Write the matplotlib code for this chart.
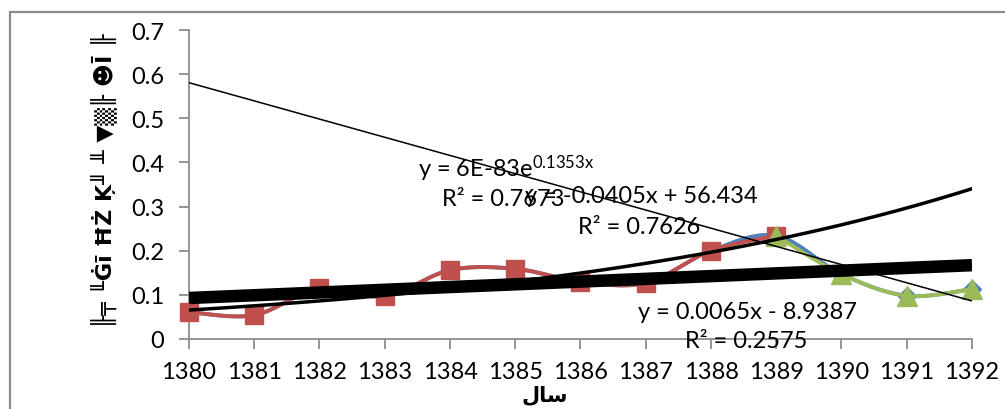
import numpy as np
import matplotlib
matplotlib.use("Agg")
import matplotlib.pyplot as plt
from matplotlib.patches import Rectangle

# ---- data ----
years = [1380, 1381, 1382, 1383, 1384, 1385, 1386, 1387, 1388, 1389, 1390, 1391, 1392]
all_values = [0.061, 0.054, 0.115, 0.097, 0.156, 0.159, 0.130, 0.127, 0.200, 0.234, 0.147, 0.098, 0.113]
red_years = [1380, 1381, 1382, 1383, 1384, 1385, 1386, 1387, 1388, 1389]
red_values = [0.061, 0.054, 0.115, 0.097, 0.156, 0.159, 0.130, 0.127, 0.200, 0.234]
green_years = [1389, 1390, 1391, 1392]
green_values = [0.234, 0.147, 0.098, 0.113]
yticks = [0, 0.1, 0.2, 0.3, 0.4, 0.5, 0.6, 0.7]
ylabel_text = "╟╤ ╙Ġī ĦŻ Ķ╜ ╨ ▼▒╟ ☻Ī ╟"
xlabel_text = "ﻝﺎﺳ"  # سال (presentation forms, visual order)
eq_exp = "y = 6E-83e$^{0.1353x}$"
r2_exp = "R² = 0.7673"
eq_dec = "y = -0.0405x + 56.434"
r2_dec = "R² = 0.7626"
eq_lin = "y = 0.0065x - 8.9387"
r2_lin = "R² = 0.2575"

BLUE = "#4F81BD"
RED = "#C0504D"
GREEN = "#9BBB59"

plt.rcParams['font.family'] = ['Lato', 'DejaVu Sans']
plt.rcParams['mathtext.fontset'] = 'custom'
plt.rcParams['mathtext.rm'] = 'Lato'
plt.rcParams['mathtext.it'] = 'Lato'


def smooth(xs, ys, n=30):
    xs = np.asarray(xs, float)
    ys = np.asarray(ys, float)
    P = np.column_stack([xs, ys])
    Pext = np.vstack([P[0], P, P[-1]])
    out = []
    t = np.linspace(0, 1, n)[:, None]
    for i in range(len(P) - 1):
        p0, p1, p2, p3 = Pext[i], Pext[i + 1], Pext[i + 2], Pext[i + 3]
        b1 = p1 + (p2 - p0) / 6
        b2 = p2 - (p3 - p1) / 6
        seg = ((1 - t) ** 3) * p1 + 3 * ((1 - t) ** 2) * t * b1 + 3 * (1 - t) * t ** 2 * b2 + t ** 3 * p2
        out.append(seg if i == 0 else seg[1:])
    s = np.vstack(out)
    return s[:, 0], s[:, 1]


fig = plt.figure(figsize=(10.05, 4.10), dpi=100)
ax = fig.add_axes([189 / 1005, 70 / 410, (972 - 189) / 1005, (340 - 31) / 410])

# series
bx, by = smooth(years, all_values)
ax.plot(bx, by, color=BLUE, lw=2.8, clip_on=False, zorder=2)
ax.plot(years, all_values, ls='none', marker='D', ms=9.5, color=BLUE, clip_on=False, zorder=2)

rx, ry = smooth(red_years, red_values)
ax.plot(rx, ry, color=RED, lw=2.8, clip_on=False, zorder=3)
ax.plot(red_years, red_values, ls='none', marker='s', ms=13.5, color=RED, clip_on=False, zorder=3)

gx, gy = smooth(green_years, green_values)
ax.plot(gx, gy, color=GREEN, lw=2.8, clip_on=False, zorder=4)
ax.plot(green_years, green_values, ls='none', marker='^', ms=14, color=GREEN, clip_on=False, zorder=4)

# trendlines
xt = np.linspace(years[0], years[-1], 200)
c_lin = np.polyfit(years, all_values, 1)
ax.plot(xt, np.polyval(c_lin, xt), color='black', lw=9, zorder=5, solid_capstyle='butt')
c_exp = np.polyfit(red_years, np.log(red_values), 1)
ax.plot(xt, np.exp(np.polyval(c_exp, xt)), color='black', lw=2.5, zorder=6)
c_dec = np.polyfit(green_years, green_values, 1)
ax.plot(xt, np.polyval(c_dec, xt), color='black', lw=1.1, zorder=6)

# labels of trendlines
fs = 17
ax.text(418 / 1005, 1 - 177 / 410, eq_exp, transform=fig.transFigure, fontsize=fs, va='baseline', zorder=7)
ax.text(442 / 1005, 1 - 206 / 410, r2_exp, transform=fig.transFigure, fontsize=fs, va='baseline', zorder=7)
ax.text(525 / 1005, 1 - 203 / 410, eq_dec, transform=fig.transFigure, fontsize=fs, va='baseline', zorder=7)
ax.text(578 / 1005, 1 - 234 / 410, r2_dec, transform=fig.transFigure, fontsize=fs, va='baseline', zorder=7)
ax.text(638 / 1005, 1 - 319 / 410, eq_lin, transform=fig.transFigure, fontsize=fs, va='baseline', zorder=7)
ax.text(685 / 1005, 1 - 348 / 410, r2_lin, transform=fig.transFigure, fontsize=fs, va='baseline', zorder=7)

ax.set_xlim(years[0], years[-1])
ax.set_ylim(0, 0.7)
ax.set_xticks(years)
ax.set_xticklabels([str(y) for y in years])
ax.set_yticks(yticks)
ax.set_yticklabels(["0" if v == 0 else f"{v:.1f}" for v in yticks])
for s in ['top', 'right']:
    ax.spines[s].set_visible(False)
for s in ['left', 'bottom']:
    ax.spines[s].set_color('#8c8c8c')
    ax.spines[s].set_linewidth(1.3)
ax.tick_params(axis='both', colors='#8c8c8c', labelcolor='black', labelsize=fs, length=7, width=1.3)
ax.tick_params(axis='y', pad=11)
ax.tick_params(axis='x', pad=9)

fig.text(545 / 1005, 1 - 395 / 410, xlabel_text, ha='center', va='center', family=['DejaVu Sans'],
         fontsize=15, fontweight='bold')
fig.text(104 / 1005, 1 - 181 / 410, ylabel_text, rotation=90, ha='center', va='center',
         fontsize=16, fontweight='bold', family=['DejaVu Sans'])

# outer frame
fig.patches.append(Rectangle((10 / 1005, -0.1), 1.2, 1 - 13 / 410 + 0.1, transform=fig.transFigure,
                             fill=False, edgecolor='#8c8c8c', lw=1.6, zorder=0))

fig.savefig("out.png", dpi=100)
